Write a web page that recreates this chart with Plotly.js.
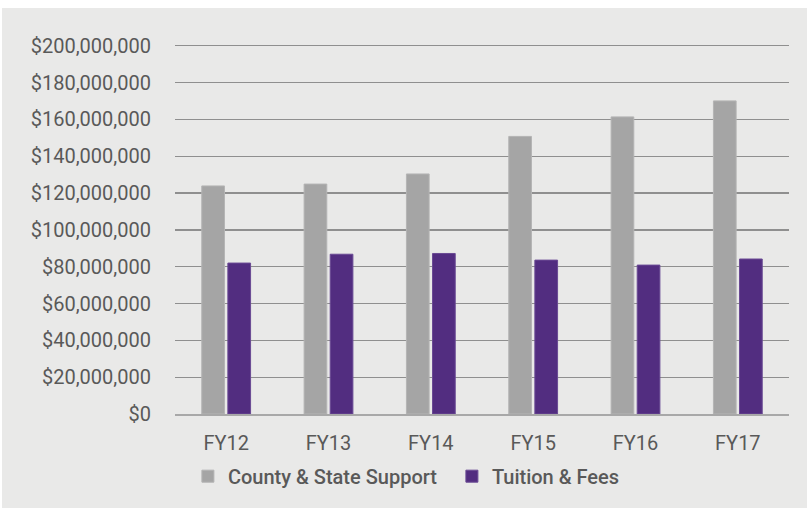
<!DOCTYPE html>
<html>
<head>
<meta charset="utf-8">
<script src="https://cdn.plot.ly/plotly-3.0.1.min.js"></script>
<style>
  html, body { margin: 0; padding: 0; background: #ffffff; }
  #chart { position: absolute; left: 2px; top: 8px; width: 805px; height: 500px; }
</style>
</head>
<body>
<div id="chart"></div>
<script>
const categories = ["FY12", "FY13", "FY14", "FY15", "FY16", "FY17"];
const countyStateSupport = [123900000, 124900000, 130400000, 150800000, 161400000, 170100000];
const tuitionFees = [82000000, 86800000, 87200000, 83600000, 80900000, 84200000];
const yTickVals = [0, 20000000, 40000000, 60000000, 80000000, 100000000, 120000000, 140000000, 160000000, 180000000, 200000000];
const yTickText = ["$0", "$20,000,000", "$40,000,000", "$60,000,000", "$80,000,000", "$100,000,000", "$120,000,000", "$140,000,000", "$160,000,000", "$180,000,000", "$200,000,000"];

const traces = [
  {
    type: "bar", name: "County & State Support", x: categories, y: countyStateSupport,
    marker: { color: "#a5a5a5", line: { color: "#b4b4b4", width: 1 } }
  },
  {
    type: "bar", name: "Tuition & Fees", x: categories, y: tuitionFees,
    marker: { color: "#522d80", line: { color: "#6a4a94", width: 1 } }
  }
];

const layout = {
  width: 805, height: 500,
  paper_bgcolor: "#e9e9e8", plot_bgcolor: "#e9e9e8",
  margin: { l: 173, r: 18, t: 36, b: 92 },
  font: { family: "Roboto, sans-serif", color: "#595959", size: 20 },
  barmode: "group", bargap: 0.49, bargroupgap: 0.13,
  showlegend: true,
  legend: {
    orientation: "h", x: 0.021, xanchor: "left", y: -0.168, yanchor: "middle",
    entrywidth: 219, entrywidthmode: "pixels",
    font: { size: 20, weight: 500, color: "#595959" },
    bgcolor: "rgba(0,0,0,0)", traceorder: "normal"
  },
  xaxis: {
    type: "category", showgrid: false, showline: true, linecolor: "#a8a8a8", linewidth: 2,
    ticks: "", ticklabelstandoff: 10, tickfont: { size: 20 }
  },
  yaxis: {
    range: [0, 201000000], tickvals: yTickVals, ticktext: yTickText,
    showgrid: true, gridcolor: "#8f8f8f", gridwidth: 1.3, zeroline: false,
    showline: false, ticks: "", ticklabelstandoff: 23, tickfont: { size: 20 }
  }
};

Plotly.newPlot("chart", traces, layout, { displayModeBar: false, staticPlot: true });
</script>
</body>
</html>
